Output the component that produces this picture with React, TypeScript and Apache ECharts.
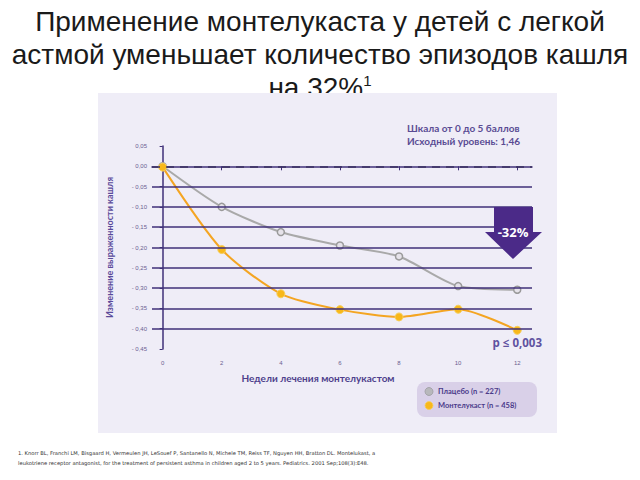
import React, { useEffect, useRef } from "react";
import * as echarts from "echarts";

const weeks = [0, 2, 4, 6, 8, 10, 12];
const placebo = [0.0, -0.1, -0.162, -0.195, -0.222, -0.295, -0.304];
const montelukast = [-0.002, -0.205, -0.314, -0.353, -0.371, -0.352, -0.404];
const xTickLabels = [0, 2, 4, 6, 8, 10, 12];
const gridSolid = [-0.05, -0.1, -0.15, -0.2, -0.25, -0.3, -0.35, -0.4];
const gridDashed = [0];
const titleLines = [
  "Применение монтелукаста у детей с легкой",
  "астмой уменьшает количество эпизодов кашля",
];
const titleLine3 = "на 32%";
const xAxisName = "Недели лечения монтелукастом";
const seriesNames = ["Плацебо (n = 227)", "Монтелукаст (n = 458)"];
const footnote = [
  "1. Knorr BL, Franchi LM, Bisgaard H, Vermeulen JH, LeSouef P, Santanello N, Michele TM, Reiss TF, Nguyen HH, Bratton DL. Montelukast, a",
  "leukotriene receptor antagonist, for the treatment of persistent asthma in children aged 2 to 5 years. Pediatrics. 2001 Sep;108(3):E48.",
];

const PURPLE = "#3f2f78";
const TXT = "#4e3f8c";

export default function App() {
  const ref = useRef<HTMLDivElement>(null);
  useEffect(() => {
    if (!ref.current) return;
    const chart = echarts.init(ref.current, null, { renderer: "svg" });
    const fmt = (v: number) => {
      const s = Math.abs(v).toFixed(2).replace(".", ",");
      return v < -1e-9 ? "- " + s : s;
    };
    const option: any = {
      animation: false,
      backgroundColor: "#ffffff",
      grid: { left: 152, right: 108, top: 146, bottom: 131 },
      xAxis: {
        type: "value",
        min: -0.36,
        max: 12.5,
        axisLine: { show: true, lineStyle: { color: PURPLE, width: 1.5 } },
        axisTick: { show: true, customValues: xTickLabels, length: 4, lineStyle: { color: PURPLE, width: 1 } },
        axisLabel: {
          customValues: xTickLabels,
          fontSize: 6,
          color: "#6a6090",
          margin: 11,
          fontFamily: "Liberation Sans",
        },
        splitLine: { show: false },
      },
      yAxis: {
        type: "value",
        min: -0.45,
        max: 0.05,
        interval: 0.05,
        axisLine: { show: true, lineStyle: { color: PURPLE, width: 1.5 } },
        axisTick: { show: true, length: 3, lineStyle: { color: PURPLE, width: 1 } },
        axisLabel: {
          formatter: fmt,
          fontSize: 6,
          color: "#6a6090",
          margin: 5,
          fontFamily: "Liberation Sans",
        },
        splitLine: { show: false },
        name: "Изменение выраженности кашля",
        nameLocation: "middle",
        nameGap: 38,
        nameRotate: 90,
        nameTextStyle: { fontSize: 9, fontWeight: "bold", color: "#5a4a9a", fontFamily: "Lato" },
      },
      series: [
        {
          type: "line",
          name: "grid",
          data: [],
          silent: true,
          markLine: {
            silent: true,
            symbol: "none",
            label: { show: false },
            data: [
              ...gridSolid.map((v) => ({ yAxis: v, lineStyle: { color: PURPLE, width: 1.5, type: "solid" } })),
              ...gridDashed.map((v) => ({ yAxis: v, lineStyle: { color: "#3a3060", width: 1.5, type: [8, 6] } })),
            ],
          },
          z: 1,
        },
        {
          type: "line",
          name: seriesNames[0],
          data: weeks.map((w, i) => [w, placebo[i]]),
          smooth: 0.25,
          symbol: "circle",
          symbolSize: 7,
          lineStyle: { color: "#a9a9a9", width: 2 },
          itemStyle: { color: "#e6e3ea", borderColor: "#9a9a9a", borderWidth: 1.5 },
          z: 3,
        },
        {
          type: "line",
          name: seriesNames[1],
          data: weeks.map((w, i) => [w, montelukast[i]]),
          smooth: 0.25,
          symbol: "circle",
          symbolSize: 8,
          lineStyle: { color: "#f4a522", width: 2 },
          itemStyle: { color: "#f8b81a", borderColor: "#f6cf5e", borderWidth: 1 },
          z: 4,
        },
      ],
      graphic: [
        ...titleLines.map((t, i) => ({
          type: "text",
          z: -20,
          left: "center",
          top: 7 + i * 33,
          style: {
            text: t,
            font: "28px 'Liberation Sans', Arial, sans-serif",
            fill: "#1a1a1a",
          },
        })),
        {
          type: "text",
          z: -20,
          left: "center",
          top: 73,
          style: {
            text: "{a|" + titleLine3 + "}{s|1}",
            rich: {
              a: { font: "28px 'Liberation Sans', Arial, sans-serif", fill: "#1a1a1a", verticalAlign: "bottom" },
              s: { font: "15px 'Liberation Sans', Arial, sans-serif", fill: "#1a1a1a", verticalAlign: "top", padding: [0, 0, 12, 0] },
            },
          },
        },
        {
          type: "rect",
          z: -10,
          shape: { x: 98, y: 93, width: 459, height: 340 },
          style: { fill: "#efedf7" },
        },
        {
          type: "text",
          z: 10,
          x: 318,
          y: 378,
          style: {
            text: xAxisName,
            font: "bold 10px Lato, sans-serif",
            fill: TXT,
            align: "center",
            verticalAlign: "middle",
          },
        },
        {
          type: "text",
          z: 10,
          x: 407,
          y: 121,
          style: {
            text: "Шкала от 0 до 5 баллов\nИсходный уровень: 1,46",
            font: "bold 10px Lato, sans-serif",
            fill: "#5a4c94",
            lineHeight: 13,
          },
        },
        {
          type: "polygon",
          z: 10,
          shape: {
            points: [
              [494, 207], [533, 207], [533, 232], [542, 232], [513, 259], [485, 232], [494, 232],
            ],
          },
          style: { fill: "#4b2a88" },
        },
        {
          type: "text",
          z: 11,
          x: 513,
          y: 232,
          style: {
            text: "-32%",
            font: "bold 13px 'Open Sans', sans-serif",
            fill: "#ffffff",
            align: "center",
            verticalAlign: "middle",
          },
        },
        {
          type: "text",
          z: 10,
          x: 542,
          y: 342,
          style: {
            text: "p ≤ 0,003",
            font: "bold 11.5px 'Open Sans', sans-serif",
            fill: "#5f52a0",
            align: "right",
            verticalAlign: "middle",
          },
        },
        {
          type: "rect",
          z: 10,
          shape: { x: 417, y: 382, width: 120, height: 35, r: 8 },
          style: { fill: "#d9d0e8" },
        },
        {
          type: "circle",
          z: 11,
          shape: { cx: 429, cy: 391.5, r: 4 },
          style: { fill: "#b8b8bc", stroke: "#9c9ca0", lineWidth: 0.8 },
        },
        {
          type: "circle",
          z: 11,
          shape: { cx: 429, cy: 405.5, r: 4 },
          style: { fill: "#f8b81a", stroke: "#f5cf60", lineWidth: 0.8 },
        },
        {
          type: "text",
          z: 11,
          x: 438,
          y: 391.5,
          style: { text: seriesNames[0], font: "bold 7.5px Lato, sans-serif", fill: "#4a3a8a", verticalAlign: "middle" },
        },
        {
          type: "text",
          z: 11,
          x: 438,
          y: 405.5,
          style: { text: seriesNames[1], font: "bold 7.5px Lato, sans-serif", fill: "#4a3a8a", verticalAlign: "middle" },
        },
        ...footnote.map((t, i) => ({
          type: "text",
          z: 10,
          x: 18,
          y: 450 + i * 10,
          style: { text: t, font: "5.2px 'DejaVu Sans', sans-serif", fill: "#333333" },
        })),
      ],
    };
    chart.setOption(option);
    return () => chart.dispose();
  }, []);
  return (
    <div
      ref={ref}
      style={{ position: "absolute", left: 0, top: 0, width: 640, height: 480 }}
    />
  );
}
